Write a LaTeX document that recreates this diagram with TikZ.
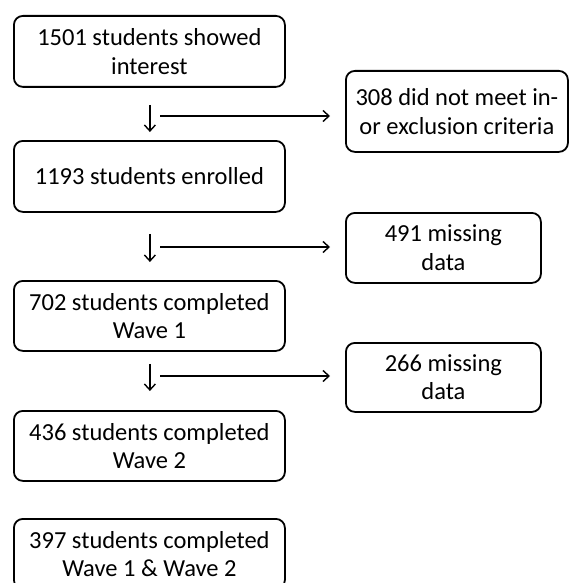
\documentclass[tikz,border=0pt]{standalone}
\usepackage{fontspec}
\setmainfont{Carlito}
\usetikzlibrary{positioning,arrows.meta}

\begin{document}
\begin{tikzpicture}[x=1pt, y=-1pt,
    box/.style={draw, line width=1.8pt, rounded corners=9pt, inner sep=0pt,
                align=center, anchor=north west, font=\fontsize{24.5}{28.5}\selectfont},
    flow/.style={->, line width=1.4pt, >={Straight Barb[length=6pt, width=11pt]}}]

    % page frame
    \useasboundingbox (0,0) rectangle (569,583);

    % main column
    \node [box, minimum width=271pt, minimum height=71pt] (interest) at (13,15) {1501 students showed\\interest};
    \node [box, minimum width=271pt, minimum height=71pt] (enrolled) at (13,140) {1193 students enrolled};
    \node [box, minimum width=271pt, minimum height=70pt] (waveone) at (13,280) {702 students completed\\Wave 1};
    \node [box, minimum width=271pt, minimum height=70pt] (wavetwo) at (13,410) {436 students completed\\Wave 2};
    \node [box, minimum width=271pt, minimum height=70pt] (both) at (13,518) {397 students completed\\Wave 1 \& Wave 2};

    % drop-outs
    \node [box, minimum width=222pt, minimum height=81pt] (criteria) at (345,70) {308 did not meet in-\\or exclusion criteria};
    \node [box, minimum width=195pt, minimum height=70pt] (missone) at (345,212) {491 missing\\data};
    \node [box, minimum width=195pt, minimum height=69pt] (misstwo) at (345,342) {266 missing\\data};

    % down arrows
    \draw [flow, shorten <=17pt, shorten >=8pt] ([xshift=0.5pt]interest.south) -- ([xshift=0.5pt]enrolled.north);
    \draw [flow, shorten <=21pt, shorten >=18pt] ([xshift=0.5pt]enrolled.south) -- ([xshift=0.5pt]waveone.north);
    \draw [flow, shorten <=12pt, shorten >=19pt] ([xshift=0.5pt]waveone.south) -- ([xshift=0.5pt]wavetwo.north);

    % side arrows
    \coordinate (outone) at (160,116);
    \coordinate (outtwo) at (160,247);
    \coordinate (outthree) at (160,376);
    \draw [flow, shorten >=15pt] (outone) -- (outone -| criteria.west);
    \draw [flow, shorten >=15pt] (outtwo) -- (outtwo -| missone.west);
    \draw [flow, shorten >=15pt] (outthree) -- (outthree -| misstwo.west);
\end{tikzpicture}
\end{document}
